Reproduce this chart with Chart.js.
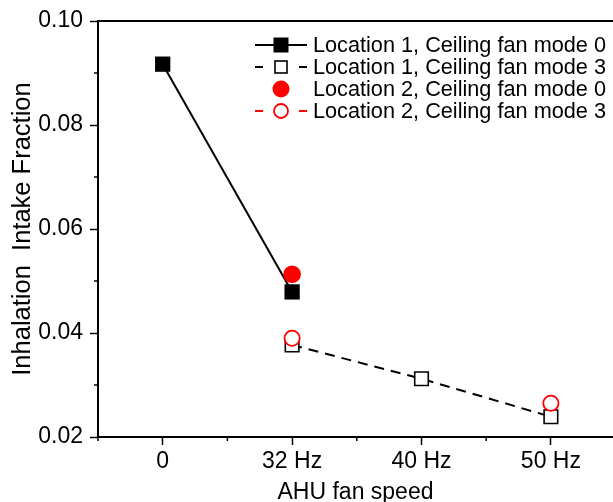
<!DOCTYPE html>
<html><head><meta charset="utf-8">
<script src="https://cdn.jsdelivr.net/npm/chart.js@4"></script>
<style>html,body{margin:0;padding:0;background:#fff}</style>
</head><body>
<canvas id="c" width="613" height="502"></canvas>
<script>
const categories = ['0', '32 Hz', '40 Hz', '50 Hz'];
const loc1Mode0 = [0.0917, 0.0479, null, null];
const loc1Mode3 = [null, 0.0377, 0.0312, 0.0239];
const loc2Mode0 = [null, 0.0513, null, null];
const loc2Mode3 = [null, 0.0390, null, 0.0265];
const yTickValues = [0.02, 0.03, 0.04, 0.05, 0.06, 0.07, 0.08, 0.09, 0.10];
const xTickValues = [-0.5, 0, 0.5, 1, 1.5, 2, 2.5, 3, 3.5];
const legendLabels = ['Location 1, Ceiling fan mode 0', 'Location 1, Ceiling fan mode 3', 'Location 2, Ceiling fan mode 0', 'Location 2, Ceiling fan mode 3'];

const FONT = "'Liberation Sans', Arial, sans-serif";
const toPts = arr => arr.map((v, i) => v === null ? null : {x: i, y: v}).filter(p => p);

const datasets = [
  {label: legendLabels[0], data: toPts(loc1Mode0), borderColor: '#000', backgroundColor: '#000', borderWidth: 2,
   pointStyle: 'rect', pointRadius: 10.8, pointBorderWidth: 0, showLine: true, order: 2},
  {label: legendLabels[1], data: toPts(loc1Mode3), borderColor: '#000', backgroundColor: '#fff', borderWidth: 2, borderDash: [10, 7],
   pointStyle: 'rect', pointRadius: 9.6, pointBorderWidth: 1.6, pointBorderColor: '#000', pointBackgroundColor: '#fff', showLine: true, order: 3},
  {label: legendLabels[2], data: toPts(loc2Mode0), borderColor: '#f00', backgroundColor: '#f00', borderWidth: 0,
   pointStyle: 'circle', pointRadius: 8.8, pointBorderWidth: 0, showLine: false, order: 1},
  {label: legendLabels[3], data: toPts(loc2Mode3), borderColor: '#f00', backgroundColor: '#fff', borderWidth: 2, borderDash: [10, 7],
   pointStyle: 'circle', pointRadius: 7.6, pointBorderWidth: 1.8, pointBorderColor: '#f00', pointBackgroundColor: '#fff', showLine: false, order: 0}
];

function drawMarker(ctx, i, x, y) {
  ctx.save();
  if (i === 0) { ctx.fillStyle = '#000'; ctx.fillRect(x - 7.5, y - 7.5, 15, 15); }
  if (i === 1) { ctx.strokeStyle = '#000'; ctx.lineWidth = 1.6; ctx.strokeRect(x - 6, y - 6, 12, 12); }
  if (i === 2) { ctx.fillStyle = '#f00'; ctx.beginPath(); ctx.arc(x, y, 8.5, 0, Math.PI * 2); ctx.fill(); }
  if (i === 3) { ctx.strokeStyle = '#f00'; ctx.lineWidth = 1.8; ctx.beginPath(); ctx.arc(x, y, 7, 0, Math.PI * 2); ctx.stroke(); }
  ctx.restore();
}

const extras = {
  id: 'extras',
  afterDraw(chart) {
    const ctx = chart.ctx, a = chart.chartArea;
    const xs = chart.scales.x, ys = chart.scales.y;
    ctx.save();
    ctx.strokeStyle = '#000'; ctx.lineWidth = 2;
    ctx.beginPath(); ctx.moveTo(a.left - 1, a.top); ctx.lineTo(chart.width, a.top); ctx.stroke();
    ctx.lineWidth = 1.5;
    yTickValues.forEach((v, i) => {
      if (i % 2 === 1) { const py = ys.getPixelForValue(v); ctx.beginPath(); ctx.moveTo(a.left - 4, py); ctx.lineTo(a.left, py); ctx.stroke(); }
    });
    xTickValues.forEach(v => {
      if (!Number.isInteger(v)) { const px = xs.getPixelForValue(v); ctx.beginPath(); ctx.moveTo(px, a.bottom); ctx.lineTo(px, a.bottom + 4); ctx.stroke(); }
    });
    const lx0 = 255, lx1 = 307, mx = 281, tx = 313, y0 = 45, dy = 22;
    ctx.font = '21.7px ' + FONT; ctx.textBaseline = 'middle'; ctx.fillStyle = '#000';
    legendLabels.forEach((t, i) => {
      const y = y0 + i * dy;
      ctx.lineWidth = 2;
      if (i === 0) { ctx.strokeStyle = '#000'; ctx.beginPath(); ctx.moveTo(lx0, y); ctx.lineTo(lx1, y); ctx.stroke(); }
      if (i === 1 || i === 3) {
        ctx.strokeStyle = i === 1 ? '#000' : '#f00';
        ctx.beginPath(); ctx.moveTo(lx0, y); ctx.lineTo(lx0 + 8, y); ctx.moveTo(lx1 - 8, y); ctx.lineTo(lx1, y); ctx.stroke();
      }
      drawMarker(ctx, i, mx, y);
      ctx.fillStyle = '#000';
      ctx.fillText(t, tx, y + 1);
    });
    ctx.restore();
  }
};

new Chart(document.getElementById('c'), {
  type: 'scatter',
  data: {datasets},
  plugins: [extras],
  options: {
    responsive: false, animation: false, devicePixelRatio: 1,
    layout: {autoPadding: false, padding: {top: 21, right: 0, left: 0, bottom: 0}},
    plugins: {legend: {display: false}, tooltip: {enabled: false}},
    scales: {
      x: {
        type: 'linear', min: -0.5, max: 3.48,
        afterBuildTicks: s => { s.ticks = xTickValues.filter(v => v <= 3.48).map(v => ({value: v})); },
        afterFit: s => { s.height = 65; s.paddingLeft = 0; s.paddingRight = 0; },
        ticks: {autoSkip: false, maxRotation: 0, padding: 3, color: '#000', font: {family: FONT, size: 23},
          callback: v => Number.isInteger(v) ? categories[v] : ''},
        grid: {drawOnChartArea: false, tickLength: 8, tickWidth: 1.5, tickColor: c => (c.tick && Number.isInteger(c.tick.value)) ? '#000' : 'rgba(0,0,0,0)'},
        border: {color: '#000', width: 2},
        title: {display: true, text: 'AHU fan speed', color: '#000', font: {family: FONT, size: 23}, padding: {top: 0, bottom: -4}}
      },
      y: {
        min: 0.02, max: 0.10,
        afterBuildTicks: s => { s.ticks = yTickValues.map(v => ({value: v})); },
        afterFit: s => { s.width = 98; s.paddingTop = 0; s.paddingBottom = 0; },
        ticks: {padding: 7, color: '#000', font: {family: FONT, size: 23},
          callback: (v, i) => i % 2 === 0 ? v.toFixed(2) : ''},
        grid: {drawOnChartArea: false, tickLength: 8, tickWidth: 1.5, tickColor: c => (c.index % 2 === 0) ? '#000' : 'rgba(0,0,0,0)'},
        border: {color: '#000', width: 2},
        title: {display: true, text: 'Inhalation  Intake Fraction', color: '#000', font: {family: FONT, size: 25.5}, padding: {top: 8, bottom: 0}}
      }
    }
  }
});
</script>
</body></html>
